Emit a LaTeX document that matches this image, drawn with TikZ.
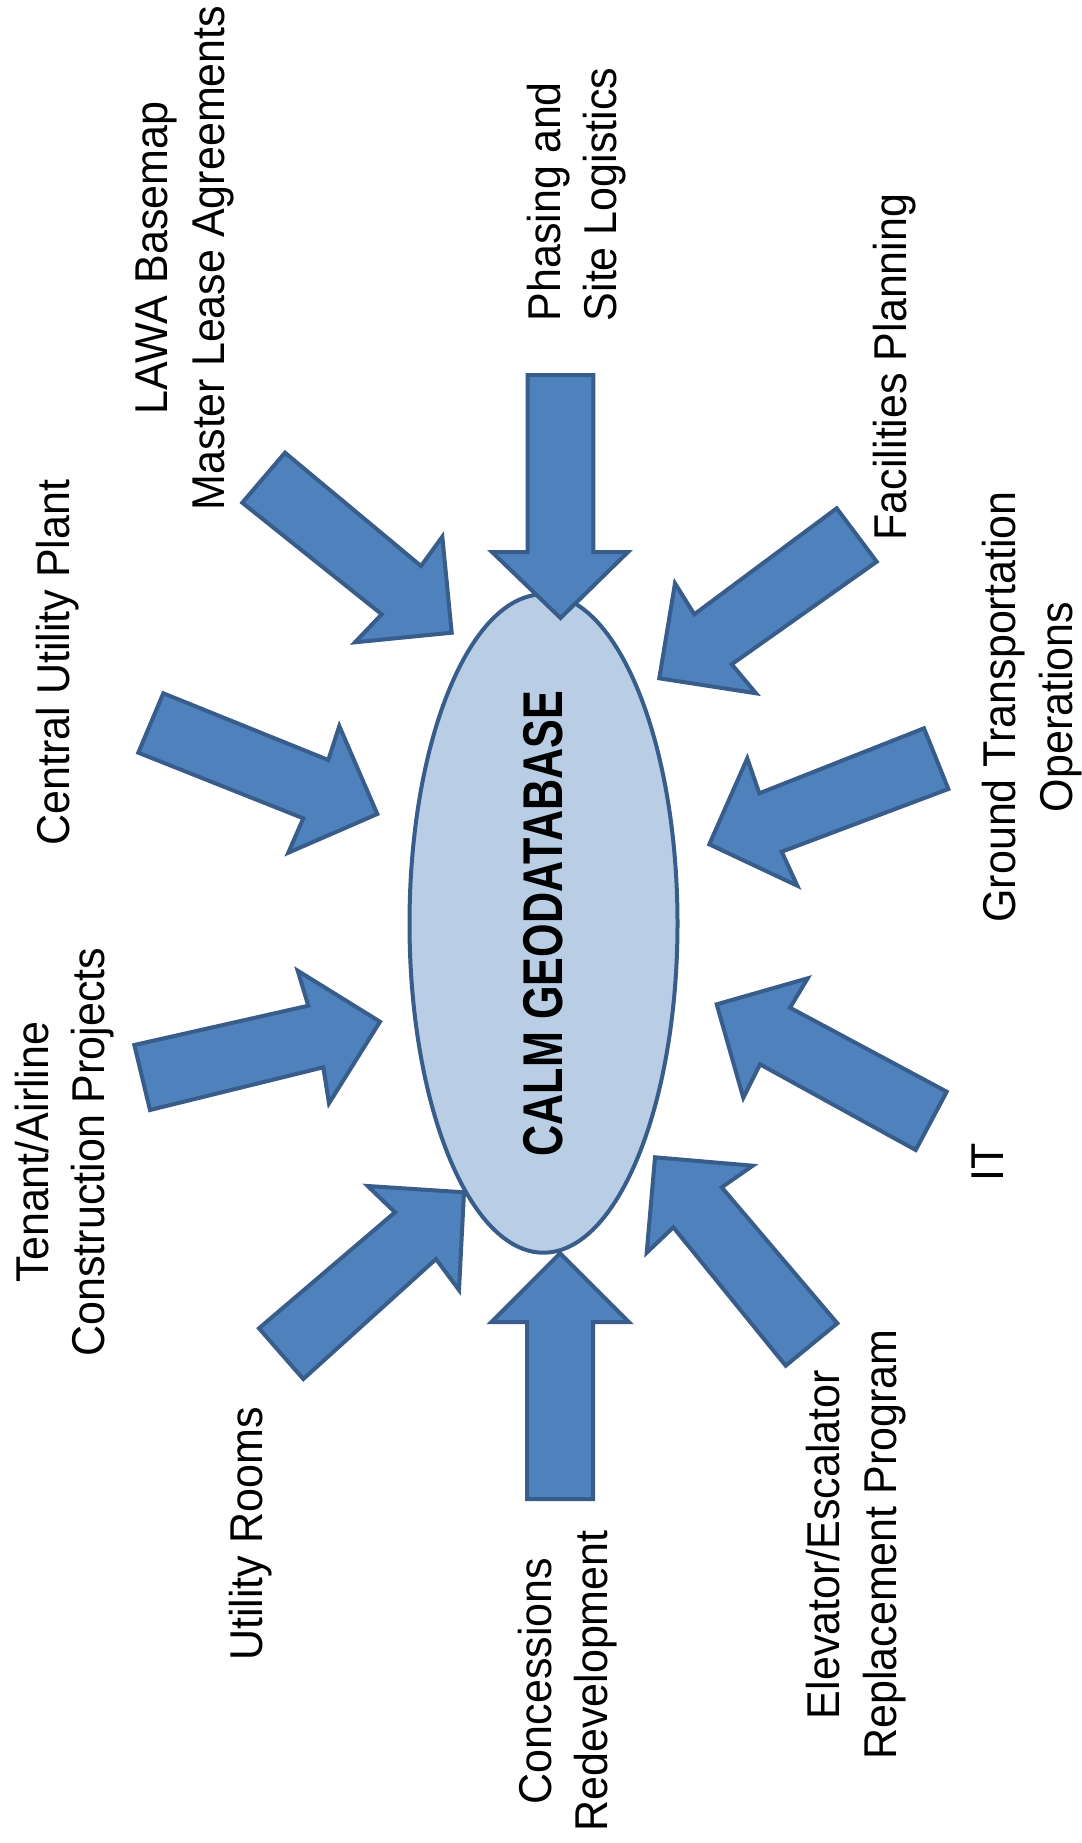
\documentclass[tikz,border=0pt]{standalone}
\usepackage{graphicx}
\usepackage{fontspec}
\setmainfont{Liberation Sans}
\usetikzlibrary{shapes.geometric}
\definecolor{arrowfill}{HTML}{4F81BD}
\definecolor{arrowline}{HTML}{385D8A}
\definecolor{ellfill}{HTML}{B9CDE5}
\newcommand{\lbltext}[1]{\scalebox{0.935}[1]{\begin{tabular}{@{}c@{}}#1\end{tabular}}}
\newcommand{\lbltextl}[1]{\scalebox{0.935}[1]{\begin{tabular}{@{}l@{}}#1\end{tabular}}}
\begin{document}
\begin{tikzpicture}[x=1pt,y=-1pt,
  blockarrow/.style={fill=arrowfill, draw=arrowline, line width=4pt, line join=miter},
  lbl/.style={rotate=90, inner sep=0pt, font=\fontsize{46}{56.5}\selectfont},
  dbnode/.style={ellipse, rotate=90, draw=arrowline, fill=ellfill, line width=4pt,
    minimum width=606pt, minimum height=268pt, inner sep=0pt,
    font=\bfseries\fontsize{56}{60}\selectfont}
]
\useasboundingbox[fill=white] (0,0) rectangle (1081,1843);

% central ellipse
\node[dbnode] (db) at (543.5,923.5) {\scalebox{0.77}[1]{CALM GEODATABASE}};

% block arrows
\draw[blockarrow] (527.6,375) -- (593.4,375) -- (593.4,552) -- (628,552) -- (560.5,618) -- (492,552) -- (527.6,552) -- cycle;
\draw[blockarrow] (527,1499) -- (593,1499) -- (593,1322) -- (628.7,1322) -- (560,1253.3) -- (491.5,1322) -- (527,1322) -- cycle;
\draw[blockarrow] (285,452.7) -- (421,566) -- (442.3,536.7) -- (451.7,632.7) -- (355,642.3) -- (381.7,614.3) -- (242.3,502.7) -- cycle;
\draw[blockarrow] (836.7,508.3) -- (876.7,561.7) -- (731.7,664.3) -- (756,693.3) -- (659.3,678.3) -- (675,583.3) -- (694.3,614.3) -- cycle;
\draw[blockarrow] (163.3,693.3) -- (328.3,760) -- (339.3,726) -- (377.3,814) -- (288.3,852.7) -- (303.3,818.3) -- (138.3,752.7) -- cycle;
\draw[blockarrow] (924,728.3) -- (948.3,789) -- (781.7,851.7) -- (797.3,885.7) -- (709.3,844.3) -- (747.3,758.3) -- (759.3,793.3) -- cycle;
\draw[blockarrow] (134.3,1045) -- (308.3,1005.7) -- (297.7,970.7) -- (380,1021.7) -- (329,1103.3) -- (323.3,1067.3) -- (150,1110) -- cycle;
\draw[blockarrow] (807.7,978.3) -- (716.7,1004.3) -- (743.3,1097.7) -- (760,1064.3) -- (915.7,1150) -- (946.7,1091.7) -- (790,1007.7) -- cycle;
\draw[blockarrow] (367.7,1186) -- (464,1192.3) -- (459,1290) -- (436,1259) -- (303.3,1379) -- (259,1328.3) -- (395,1212.3) -- cycle;
\draw[blockarrow] (655,1157.3) -- (752.7,1165.7) -- (721.7,1187.3) -- (837.3,1323.3) -- (785.7,1365.7) -- (673.3,1227.3) -- (646.7,1252.7) -- cycle;

% labels
\node[lbl] (lawa) at (184.5,258) {\lbltext{LAWA Basemap\\Master Lease Agreements}};
\node[lbl, anchor=west] (phase) at (577.1,321.4) {\lbltextl{Phasing and\\Site Logistics}};
\node[lbl] (fac) at (895.3,367) {\lbltext{Facilities Planning}};
\node[lbl] (cup) at (57.7,662.5) {\lbltext{Central Utility Plant}};
\node[lbl] (gto) at (1032.7,707) {\lbltext{Ground Transportation\\Operations}};
\node[lbl] (ten) at (65.3,1152) {\lbltext{Tenant/Airline\\Construction Projects}};
\node[lbl] (it) at (991.7,1162.5) {\lbltext{IT}};
\node[lbl] (ur) at (250.7,1534) {\lbltext{Utility Rooms}};
\node[lbl] (con) at (568.2,1681) {\lbltext{Concessions\\Redevelopment}};
\node[lbl] (elev) at (856.7,1544.5) {\lbltext{Elevator/Escalator\\Replacement Program}};
\end{tikzpicture}
\end{document}
